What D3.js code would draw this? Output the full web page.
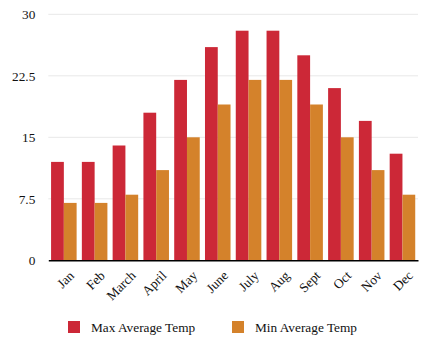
<!DOCTYPE html>
<html>
<head>
<meta charset="utf-8">
<script src="https://cdn.jsdelivr.net/npm/d3@7"></script>
<style>
  html, body { margin: 0; padding: 0; background: #fff; }
  svg text { font-family: "Liberation Serif", "DejaVu Serif", serif; fill: #111; }
</style>
</head>
<body>
<div id="chart"></div>
<script>
'use strict'

// monthly temperatures
const months = ['Jan', 'Feb', 'March', 'April', 'May', 'June', 'July', 'Aug', 'Sept', 'Oct', 'Nov', 'Dec']
const maxTemp = [12, 12, 14, 18, 22, 26, 28, 28, 25, 21, 17, 13]
const minTemp = [7, 7, 8, 11, 15, 19, 22, 22, 19, 15, 11, 8]
const yTicks = [0, 7.5, 15, 22.5, 30]
const seriesNames = ['Max Average Temp', 'Min Average Temp']
const colors = ['#cc2837', '#d4822b']

var width = 430
var height = 341
var margin = { top: 14.3, right: 12, bottom: 80.7, left: 48.3 }
var w = width - margin.left - margin.right
var h = height - margin.top - margin.bottom
var fontSize = '13.3px'

var svg = d3.select('#chart').append('svg')
    .attr('width', width)
    .attr('height', height)

var g = svg.append('g')
    .attr('transform', 'translate(' + margin.left + ',' + margin.top + ')')

var x = d3.scaleBand().domain(months).range([0, w]).paddingInner(0.17).paddingOuter(0.09)
var x1 = d3.scaleBand().domain([0, 1]).range([0, x.bandwidth()])
var y = d3.scaleLinear().domain([0, 30]).range([h, 0])

// grid lines
g.append('g')
    .selectAll('line')
    .data(yTicks.slice(1))
    .join('line')
    .attr('x1', 0)
    .attr('x2', w)
    .attr('y1', d => y(d))
    .attr('y2', d => y(d))
    .attr('stroke', '#e8e8e8')
    .attr('stroke-width', 1)

// y labels
var yAxis = g.append('g')
    .call(d3.axisLeft(y).tickValues(yTicks).tickSize(0).tickPadding(13).tickFormat(d => d))
yAxis.select('.domain').remove()
yAxis.selectAll('text').style('font-size', fontSize)

// bars
var rows = months.map((m, i) => ({ month: m, vals: [maxTemp[i], minTemp[i]] }))
g.append('g')
    .selectAll('g')
    .data(rows)
    .join('g')
    .attr('transform', d => 'translate(' + x(d.month) + ',0)')
    .selectAll('rect')
    .data(d => d.vals.map((v, k) => ({ k: k, v: v })))
    .join('rect')
    .attr('x', d => x1(d.k))
    .attr('y', d => y(d.v))
    .attr('width', x1.bandwidth())
    .attr('height', d => h - y(d.v))
    .attr('fill', d => colors[d.k])

// x axis
var xAxis = g.append('g')
    .attr('transform', 'translate(0,' + h + ')')
    .call(d3.axisBottom(x).tickSize(0).tickSizeOuter(0))
xAxis.select('.domain').attr('stroke', '#000').attr('stroke-width', 1.5)
xAxis.selectAll('text')
    .style('font-size', fontSize)
    .attr('text-anchor', 'end')
    .attr('dy', 0)
    .attr('transform', 'translate(9,14) rotate(-45)')

// legend
var legend = svg.append('g').attr('transform', 'translate(68,321)')
var items = legend.selectAll('g')
    .data(seriesNames)
    .join('g')
    .attr('transform', (d, i) => 'translate(' + (i * 164) + ',0)')
items.append('rect')
    .attr('width', 12)
    .attr('height', 12)
    .attr('fill', (d, i) => colors[i])
items.append('text')
    .attr('x', 23)
    .attr('y', 11)
    .style('font-size', fontSize)
    .text(d => d)
</script>
</body>
</html>
